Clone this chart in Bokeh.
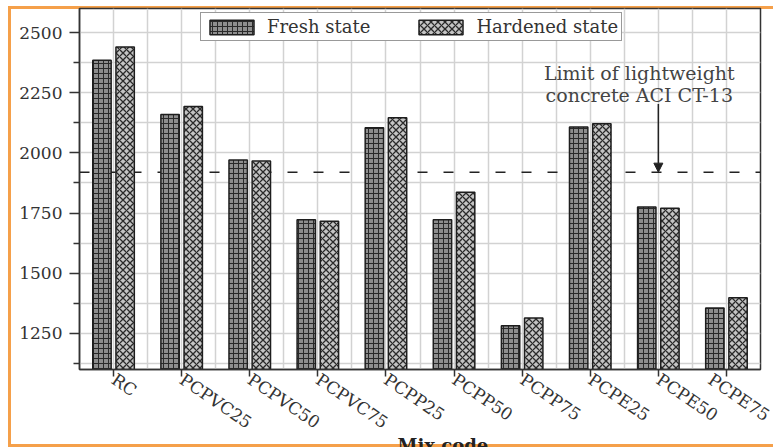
from bokeh.plotting import figure
from bokeh.models import (ColumnDataSource, FixedTicker, Span, Arrow, NormalHead,
                          Label, Legend, LegendItem, Title)
from bokeh.transform import dodge
from bokeh.embed import file_html
from bokeh.resources import INLINE

# Density of each mix (kg/m3), fresh and hardened
mixes = ["RC", "PCPVC25", "PCPVC50", "PCPVC75", "PCPP25", "PCPP50",
         "PCPP75", "PCPE25", "PCPE50", "PCPE75"]
fresh = [2385, 2160, 1970, 1722, 2105, 1722, 1282, 2108, 1775, 1356]
hardened = [2440, 2193, 1966, 1716, 2146, 1837, 1314, 2121, 1770, 1398]
lightweight_limit = 1920
y_ticks = [1250, 1500, 1750, 2000, 2250, 2500]

FONT = "DejaVu Serif"
INK = "#333333"
ORANGE = "#f5a04a"

pos = list(range(1, len(mixes) + 1))
src = ColumnDataSource(dict(x=pos, fresh=fresh, hardened=hardened))

# thin orange frame drawn as CSS background lines behind a transparent border area
frame_css = {
    "background-color": "white",
    "background-image": ", ".join([f"linear-gradient({ORANGE}, {ORANGE})"] * 3),
    "background-size": "3px 441px, 780px 3px, 780px 3px",
    "background-position": "7.5px 5.5px, 7.5px 5.5px, 7.5px 444px",
    "background-repeat": "no-repeat",
}

p = figure(width=773, height=447, x_range=(0.5, 10.5), y_range=(1100, 2600),
           output_backend="svg", toolbar_location=None,
           min_border_left=79, min_border_right=13, min_border_top=8,
           min_border_bottom=78, styles=frame_css)
p.background_fill_color = "white"
p.border_fill_alpha = 0
p.outline_line_color = INK
p.outline_line_width = 1.5
p.outline_line_alpha = 1.0

# grid: every category and half-category, every 125 kg/m3
x_minor = [x - 0.5 for x in pos] + [pos[-1] + 0.5]
y_minor = [t - 125 for t in y_ticks]
xt = FixedTicker(ticks=pos, minor_ticks=x_minor)
yt = FixedTicker(ticks=y_ticks, minor_ticks=y_minor)
p.xaxis.ticker = xt
p.yaxis.ticker = yt
p.xgrid.ticker = xt
p.ygrid.ticker = yt
for g in (p.xgrid, p.ygrid):
    g.grid_line_color = "#d2d2d2"
    g.grid_line_width = 1.5
    g.minor_grid_line_color = "#d2d2d2"
    g.minor_grid_line_width = 1.5

for ax in (p.xaxis, p.yaxis):
    ax.axis_line_color = INK
    ax.axis_line_width = 1.5
    ax.major_tick_line_color = INK
    ax.major_tick_line_width = 1.5
    ax.major_tick_in = 0
    ax.minor_tick_in = 0
    ax.major_label_text_font = FONT
    ax.major_label_text_font_size = "17px"
    ax.major_label_text_color = INK

p.yaxis.major_tick_out = 10
p.yaxis.minor_tick_out = 6
p.yaxis.minor_tick_line_color = INK
p.yaxis.minor_tick_line_width = 1.5
p.yaxis.major_label_standoff = 7

p.xaxis.major_tick_out = 7
p.xaxis.minor_tick_line_color = None
p.xaxis.major_label_standoff = 1
p.xaxis.major_label_orientation = -0.6
p.xaxis.major_label_overrides = {i: m for i, m in zip(pos, mixes)}

# ACI lightweight-concrete limit
limit = Span(location=lightweight_limit, dimension="width", line_color="#222222",
             line_width=1.5, line_dash="10 16", level="underlay")
p.add_layout(limit)

r_fresh = p.vbar(x=dodge("x", -0.17), top="fresh", bottom=0, width=0.27, source=src,
                 fill_color="#8e8e8e", line_color="#1e1e1e", line_width=1.5,
                 hatch_pattern="cross", hatch_color="#2a2a2a", hatch_scale=5,
                 hatch_weight=1)
r_hard = p.vbar(x=dodge("x", 0.17), top="hardened", bottom=0, width=0.27, source=src,
                fill_color="#c4c4c4", line_color="#1e1e1e", line_width=1.5,
                hatch_pattern="diagonal_cross", hatch_color="#2a2a2a", hatch_scale=7,
                hatch_weight=1.3)

legend = Legend(items=[LegendItem(label="Fresh state", renderers=[r_fresh]),
                       LegendItem(label="Hardened state", renderers=[r_hard])],
                orientation="horizontal", location=(121, 328), margin=0,
                padding=3, spacing=43, glyph_width=55, glyph_height=18,
                label_height=18, label_standoff=8,
                label_text_font=FONT, label_text_font_size="18px",
                label_text_color=INK, border_line_color=INK, border_line_width=1.2,
                background_fill_color="white", background_fill_alpha=1.0)
p.add_layout(legend, "center")

# annotation for the limit line
p.add_layout(Label(x=8.72, y=2334, text="Limit of lightweight", text_align="center",
                   text_baseline="middle", text_font=FONT, text_font_size="19px",
                   text_color="#444444"))
p.add_layout(Label(x=8.72, y=2239, text="concrete ACI CT-13", text_align="center",
                   text_baseline="middle", text_font=FONT, text_font_size="19px",
                   text_color="#444444"))
p.add_layout(Arrow(end=NormalHead(size=9, fill_color="#222222", line_color="#222222"),
                   x_start=9, y_start=2203, x_end=9, y_end=lightweight_limit,
                   line_color="#222222", line_width=1.5))

# x-axis title in its own slim panel under the tick labels
p.add_layout(Title(text="Mix code", align="left", offset=318, vertical_align="middle",
                   standoff=-19, text_font=FONT, text_font_style="bold",
                   text_font_size="18px", text_color="#222222"), "below")

open("out.html", "w").write(file_html(p, INLINE))
